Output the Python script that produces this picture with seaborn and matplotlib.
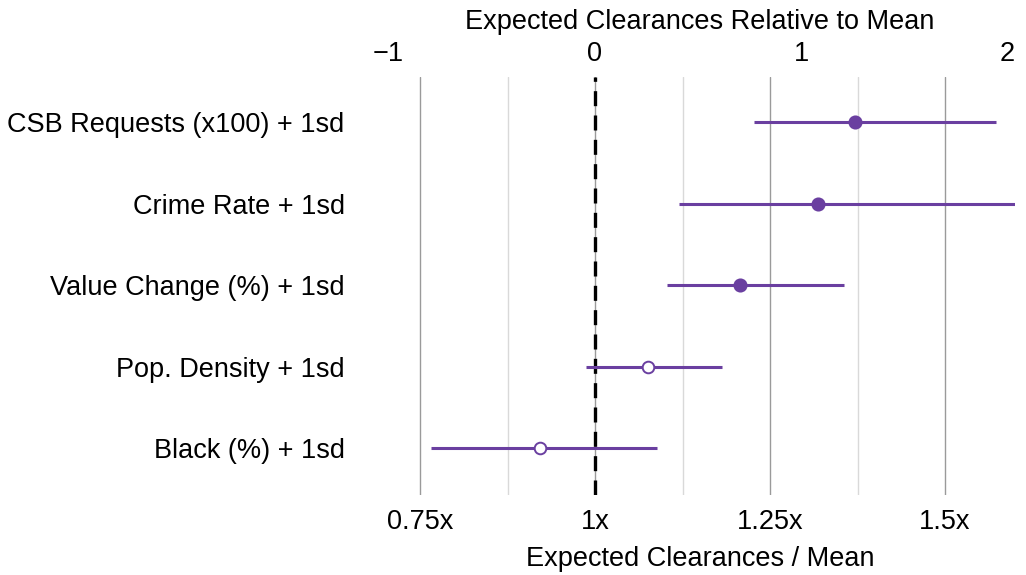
import matplotlib
matplotlib.use("Agg")
import matplotlib.pyplot as plt
import seaborn as sns
import pandas as pd
import numpy as np

# Effect estimates (ratio of expected clearances to the mean) with 95% intervals
predictors = [
    "CSB Requests (x100) + 1sd",
    "Crime Rate + 1sd",
    "Value Change (%) + 1sd",
    "Pop. Density + 1sd",
    "Black (%) + 1sd",
]
estimate = [1.371, 1.319, 1.207, 1.076, 0.921]
ci_low = [1.227, 1.120, 1.103, 0.987, 0.766]
ci_high = [1.573, 1.600, 1.356, 1.181, 1.089]

bottom_ticks = [0.75, 1.0, 1.25, 1.5]
bottom_labels = ["0.75x", "1x", "1.25x", "1.5x"]
minor_grid = [0.875, 1.125, 1.375]
top_ticks = [-1, 0, 1, 2]
top_labels = ["\u22121", "0", "1", "2"]
# one unit on the top scale corresponds to this change in the ratio
top_unit = 0.2947

df = pd.DataFrame({
    "predictor": predictors,
    "estimate": estimate,
    "lo": ci_low,
    "hi": ci_high,
})
df["row"] = np.arange(len(df))
df["significant"] = (df["lo"] > 1) | (df["hi"] < 1)

sns.set_theme(style="white")
plt.rcParams["font.family"] = ["Liberation Sans", "DejaVu Sans"]
plt.rcParams["text.color"] = "black"
plt.rcParams["xtick.color"] = "black"
plt.rcParams["ytick.color"] = "black"
plt.rcParams["axes.labelcolor"] = "black"

purple = "#6a3fa0"
fs = 19.5

fig = plt.figure(figsize=(10.26, 5.75), dpi=100)
ax = fig.add_axes([385 / 1026, 1 - 495 / 575, 630 / 1026, 418 / 575])

# vertical reference grid
for x in bottom_ticks:
    ax.axvline(x, color="#9a9a9a", lw=1.0, zorder=0)
for x in minor_grid:
    ax.axvline(x, color="#d9d9d9", lw=1.0, zorder=0)
ax.axvline(1.0, color="black", lw=2.4, ls=(0, (4.5, 2.8)), zorder=1)

# confidence intervals
ax.hlines(df["row"], df["lo"], df["hi"], color=purple, lw=2.2, zorder=2)

# point estimates: filled when the interval excludes 1x
sig = df[df["significant"]]
nonsig = df[~df["significant"]]
sns.scatterplot(data=sig, x="estimate", y="row", ax=ax, color=purple,
                s=80, edgecolor=purple, linewidth=1.2, zorder=3, legend=False)
sns.scatterplot(data=nonsig, x="estimate", y="row", ax=ax, color="white",
                s=70, edgecolor=purple, linewidth=1.4, zorder=3, legend=False)

ax.set_xlim(0.7, 1.6)
ax.set_ylim(len(df) - 1 + 0.57, -0.55)
ax.set_yticks(df["row"])
ax.set_yticklabels(df["predictor"], fontsize=fs)
ax.set_xticks(bottom_ticks)
ax.set_xticklabels(bottom_labels, fontsize=fs)
ax.set_xlabel("Expected Clearances / Mean", fontsize=fs, labelpad=8)
ax.set_ylabel("")
ax.tick_params(axis="y", length=0, pad=29)
ax.tick_params(axis="x", length=0, pad=10)
for s in ax.spines.values():
    s.set_visible(False)

sec = ax.secondary_xaxis(
    "top",
    functions=(lambda r: (r - 1) / top_unit, lambda t: 1 + t * top_unit),
)
sec.set_xticks(top_ticks)
sec.set_xticklabels(top_labels, fontsize=fs)
sec.set_xlabel("Expected Clearances Relative to Mean", fontsize=fs, labelpad=9)
sec.tick_params(length=0, pad=7)
for s in sec.spines.values():
    s.set_visible(False)

fig.savefig("out.png", dpi=100, facecolor="white")
